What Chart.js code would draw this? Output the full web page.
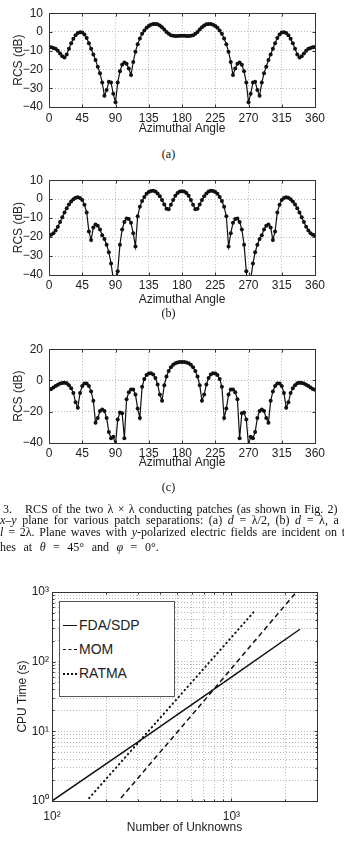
<!DOCTYPE html>
<html>
<head>
<meta charset="utf-8">
<script src="https://cdn.jsdelivr.net/npm/chart.js@4.4.1/dist/chart.umd.min.js"></script>
<style>
body{margin:0;width:344px;height:842px;background:#fff;position:relative;overflow:hidden;font-family:'Liberation Sans',Arial,sans-serif;color:#222}
canvas{position:absolute;left:0}
.sub{position:absolute;left:0;width:337px;text-align:center;font:12px 'Liberation Serif',serif;line-height:14px;color:#111}
.cap{position:absolute;left:0;white-space:nowrap;font:12px 'Liberation Serif',serif;line-height:14px;color:#111}
#leg{position:absolute;left:59px;top:601px;width:114px;height:94px;border:1px solid #555;background:#fff;font-size:14px;color:#222}
.row{position:absolute;left:2px;width:110px;height:16px}
.row i{position:absolute;left:1px;top:8px;width:14px;border-top:1.5px solid #111}
.row span{position:absolute;left:17px;top:0;line-height:16px}
</style>
</head>
<body>
<canvas id="ca" width="344" height="136" style="top:0"></canvas>
<div class="sub" style="top:147px">(a)</div>
<canvas id="cb" width="344" height="140" style="top:167px"></canvas>
<div class="sub" style="top:306px">(b)</div>
<canvas id="cc" width="344" height="134" style="top:336px"></canvas>
<div class="sub" style="top:480px">(c)</div>

<div class="cap" style="top:502px;left:3px">3.</div>
<div class="cap" style="top:502px;left:25px;word-spacing:1.3px">RCS of the two λ × λ conducting patches (as shown in Fig. 2)</div>
<div class="cap" style="top:513px;word-spacing:2.6px"><i>x</i>–<i>y</i> plane for various patch separations: (a) <i>d</i> = λ/2, (b) <i>d</i> = λ, a</div>
<div class="cap" style="top:525px;word-spacing:1.8px"><i>l</i> = 2λ. Plane waves with <i>y</i>-polarized electric fields are incident on t</div>
<div class="cap" style="top:540px;word-spacing:4.5px">hes at <i>θ</i> = 45° and <i>φ</i> = 0°.</div>

<canvas id="cl" width="344" height="275" style="top:560px"></canvas>
<div id="leg">
  <div class="row" style="top:15px"><i></i><span>FDA/SDP</span></div>
  <div class="row" style="top:39px"><i style="border-top-style:dashed"></i><span>MOM</span></div>
  <div class="row" style="top:63px"><i style="border-top:2px dotted #111"></i><span>RATMA</span></div>
</div>

<script>
// sample angles (deg) for the three RCS cuts
const angles = [
  0,3,6,9,12,15,18,21,24,27,30,33,36,39,42,45,48,51,54,57,60,63,66,69,72,75,78,81,84,87,
  90,93,96,99,102,105,108,111,114,117,120,123,126,129,132,135,138,141,144,147,150,153,156,159,162,165,168,171,174,177,
  180,183,186,189,192,195,198,201,204,207,210,213,216,219,222,225,228,231,234,237,240,243,246,249,252,255,258,261,264,267,
  270,273,276,279,282,285,288,291,294,297,300,303,306,309,312,315,318,321,324,327,330,333,336,339,342,345,348,351,354,357,360
];
// (a) d = lambda/2
const rcsA = [
  -8,-8.2,-8.5,-9,-10,-11.5,-13,-13.6,-12,-9,-6,-3.6,-1.8,-0.6,-0.1,-0.3,-1.3,-3.2,-6,-9,-12,-15,-18.5,-22,-27,-34,-31,-26.5,-27,-33,
  -37.5,-27,-21,-17.5,-16.3,-17,-19.5,-23,-16,-10.5,-6.5,-3.5,-1,0.8,2.2,3.2,3.9,4.2,4.3,4.1,3.5,2.5,1.3,0,-1,-1.7,-2,-2.1,-2.1,-2,
  -2,-2,-2.1,-2.1,-2,-1.7,-1,0,1.3,2.5,3.5,4.1,4.3,4.2,3.9,3.2,2.2,0.8,-1,-3.5,-6.5,-10.5,-16,-23,-19.5,-17,-16.3,-17.5,-21,-27,
  -37.5,-33,-27,-26.5,-31,-34,-27,-22,-18.5,-15,-12,-9,-6,-3.2,-1.3,-0.3,-0.1,-0.6,-1.8,-3.6,-6,-9,-12,-13.6,-13,-11.5,-10,-9,-8.5,-8.2,-8
];
// (b) d = lambda
const rcsB = [
  -19,-18.8,-18,-16.5,-14.5,-12,-9.5,-7,-4.8,-2.8,-1.2,0,0.8,1,0.6,-0.5,-3,-7,-17,-21.5,-15,-13.3,-14,-16,-19,-21,-24,-28,-34,-42,
  -55,-38,-24,-16,-12,-10.2,-10.5,-12.5,-18,-25,-9,-4,-1,1.2,2.8,3.8,4.3,4.4,4,3,1.5,-0.5,-2.8,-5,-5.3,-3,-0.5,1.8,3.2,4,
  4.2,4,3.2,1.8,-0.5,-3,-5.3,-5,-2.8,-0.5,1.5,3,4,4.4,4.3,3.8,2.8,1.2,-1,-4,-9,-25,-18,-12.5,-10.5,-10.2,-12,-16,-24,-38,
  -55,-42,-34,-28,-24,-21,-19,-16,-14,-13.3,-15,-21.5,-17,-7,-3,-0.5,0.6,1,0.8,0,-1.2,-2.8,-4.8,-7,-9.5,-12,-14.5,-16.5,-18,-18.8,-19
];
// (c) d = 2 lambda
const rcsC = [
  -6,-5.5,-4.5,-3.5,-2.7,-2,-1.6,-1.5,-1.8,-3,-5,-8,-14,-17.5,-8,-3.5,-2,-2,-3.5,-7,-13,-27,-24,-19.5,-18.5,-19.5,-24,-33,-37,-36,
  -41,-25,-20.5,-21,-37,-12,-7.5,-5.8,-5.8,-9,-18,-24,-4,1,3.5,4.5,4.6,3.8,1.5,-2.5,-9,-13,-3,2.5,6,8.5,10,11,11.5,11.8,
  11.8,11.8,11.5,11,10,8.5,6,2.5,-3,-13,-9,-2.5,1.5,3.8,4.6,4.5,3.5,1,-4,-24,-18,-9,-5.8,-5.8,-7.5,-12,-37,-21,-20.5,-25,
  -41,-36,-37,-33,-24,-19.5,-18.5,-19.5,-24,-27,-13,-7,-3.5,-2,-2,-3.5,-8,-17.5,-14,-8,-5,-3,-1.8,-1.5,-1.6,-2,-2.7,-3.5,-4.5,-5.5,-6
];
const angleTicks = [0,45,90,135,180,225,270,315,360];

// CPU time vs number of unknowns
const nFda = [100,312,1000,2410];
const tFda = [1.0,7.5,60,292];
const nMom = [242,700,2270];
const tMom = [1.1,27,960];
const nRat = [161,400,1337];
const tRat = [1.1,15.5,521];
const logXTicks = [100,200,300,400,500,600,700,800,900,1000,2000,3000];
const logYTicks = [1,2,3,4,5,6,7,8,9,10,20,30,40,50,60,70,80,90,100,200,300,400,500,600,700,800,900,1000];
const pow10 = {1:'10\u2070',10:'10\u00b9',100:'10\u00b2',1000:'10\u00b3'};

Chart.defaults.font.family = "'Liberation Sans',Arial,sans-serif";
Chart.defaults.font.size = 12;
Chart.defaults.color = '#222';

const GRID = {color:'#b8b8b8',lineWidth:1,drawTicks:false};
const BORDER = {display:false,dash:[1,2]};

// matlab-style box with inward ticks
const boxPlugin = {id:'box',afterDatasetsDraw(ch){
  const {ctx,chartArea:a} = ch, x = ch.scales.x, y = ch.scales.y;
  const l = Math.round(a.left)+.5, r = Math.round(a.right)+.5, t = Math.round(a.top)+.5, b = Math.round(a.bottom)+.5;
  ctx.save(); ctx.strokeStyle = '#333'; ctx.lineWidth = 1; ctx.setLineDash([]);
  ctx.strokeRect(l,t,r-l,b-t);
  ctx.beginPath();
  x.ticks.forEach(tk=>{const p = Math.round(x.getPixelForValue(tk.value))+.5, L = tk.major===false?2:3;
    ctx.moveTo(p,b); ctx.lineTo(p,b-L); ctx.moveTo(p,t); ctx.lineTo(p,t+L);});
  y.ticks.forEach(tk=>{const p = Math.round(y.getPixelForValue(tk.value))+.5, L = tk.major===false?2:3;
    ctx.moveTo(l,p); ctx.lineTo(l+L,p); ctx.moveTo(r,p); ctx.lineTo(r-L,p);});
  ctx.stroke(); ctx.restore();
}};

function rcs(id,vals,ymin,ymax,ystep,xh,tp){
  const cv = document.getElementById(id);
  return new Chart(cv,{type:'line',
    data:{datasets:[{data:angles.map((a,i)=>({x:a,y:vals[i]})),borderColor:'#111',borderWidth:1.2,
      pointRadius:2,pointBackgroundColor:'#111',pointBorderWidth:0,tension:0}]},
    options:{responsive:false,animation:false,events:[],
      layout:{padding:{top:11,right:29,left:0,bottom:0}},
      plugins:{legend:{display:false},tooltip:{enabled:false}},
      scales:{
        x:{type:'linear',min:0,max:360,
          afterBuildTicks:s=>{s.ticks = angleTicks.map(v=>({value:v}));},
          afterFit:s=>{s.height = xh;},
          grid:GRID,border:BORDER,
          ticks:{padding:tp,maxRotation:0,autoSkip:false},
          title:{display:true,text:'Azimuthal Angle',padding:0}},
        y:{min:ymin,max:ymax,
          afterFit:s=>{s.width = 49;},
          grid:GRID,border:BORDER,
          ticks:{stepSize:ystep,padding:6,callback:v=>String(v).replace('-','\u2212')},
          title:{display:true,text:'RCS (dB)',padding:{top:11.4,bottom:0}}}
      }},
    plugins:[boxPlugin]});
}

rcs('ca',rcsA,-40,10,10,29,4);
rcs('cb',rcsB,-40,10,10,32,3);
rcs('cc',rcsC,-40,20,20,27,3);

const pts = (xs,ys)=>xs.map((v,i)=>({x:v,y:ys[i]}));
new Chart(document.getElementById('cl'),{type:'line',
  data:{datasets:[
    {label:'FDA/SDP',data:pts(nFda,tFda),borderColor:'#111',borderWidth:1.5,pointRadius:0},
    {label:'MOM',data:pts(nMom,tMom),borderColor:'#111',borderWidth:1.5,pointRadius:0,borderDash:[5,3.5]},
    {label:'RATMA',data:pts(nRat,tRat),borderColor:'#111',borderWidth:2,pointRadius:0,borderDash:[0.5,4],borderCapStyle:'round'}
  ]},
  options:{responsive:false,animation:false,events:[],
    layout:{padding:{top:32,right:27,left:0,bottom:0}},
    plugins:{legend:{display:false},tooltip:{enabled:false}},
    scales:{
      x:{type:'logarithmic',min:100,max:3000,
        afterBuildTicks:s=>{s.ticks = logXTicks.map(v=>({value:v,major:!!pow10[v]}));},
        afterFit:s=>{s.height = 34;},
        grid:GRID,border:BORDER,
        ticks:{padding:8,maxRotation:0,autoSkip:false,callback:v=>pow10[v]||''},
        title:{display:true,text:'Number of Unknowns',padding:0}},
      y:{type:'logarithmic',min:1,max:1000,
        afterBuildTicks:s=>{s.ticks = logYTicks.map(v=>({value:v,major:!!pow10[v]}));},
        afterFit:s=>{s.width = 52;},
        grid:GRID,border:BORDER,
        ticks:{padding:3,autoSkip:false,callback:v=>pow10[v]||''},
        title:{display:true,text:'CPU Time (s)',padding:{top:15.4,bottom:0}}}
    }},
  plugins:[boxPlugin]});
</script>
</body>
</html>
